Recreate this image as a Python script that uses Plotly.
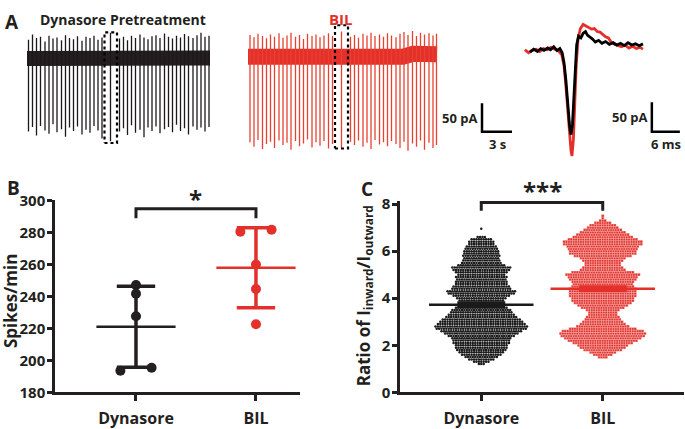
import numpy as np
import plotly.graph_objects as go

W, H = 685, 429
DARK = '#231f20'
RED = '#e3302a'
FONT = 'Open Sans'

# ---------------- data ----------------
# Panel A - spontaneous spike trains (time in s, current in pA)
black_spike_t = [0.15, 0.55, 0.95, 1.35, 1.8, 2.2, 2.6, 3.0, 3.45, 3.85, 4.25, 4.65, 5.05, 5.5,
                 5.9, 6.3, 6.7, 7.1, 7.5, 8.35, 9.25, 9.65, 10.05, 10.45, 10.85, 11.3, 11.7, 12.1,
                 12.5, 12.9, 13.3, 13.75, 14.15, 14.55, 14.95, 15.35, 15.75, 16.15, 16.6, 17.0,
                 17.4, 17.8, 18.2]
black_spike_up = [33, 42, 36, 38, 30, 40, 35, 37, 32, 41, 36, 34, 39, 31, 38, 36, 40, 33, 37, 45,
                  35, 38, 32, 40, 36, 42, 37, 34, 39, 41, 36, 44, 38, 35, 40, 37, 43, 39, 36, 41,
                  45, 38, 40]
black_spike_down = [128, 120, 135, 118, 126, 132, 115, 129, 124, 137, 121, 127, 119, 133, 125, 130,
                    118, 126, 140, 145, 128, 122, 134, 117, 130, 125, 138, 121, 127, 119, 131, 124,
                    120, 129, 116, 127, 122, 133, 119, 125, 121, 128, 120]
black_base_t = [0, 3, 6, 9, 12, 15, 18.3]
black_base_v = [0, 1, -1, 1, 0, 2, 1]
black_box_t = [7.75, 9.0]
black_box_pa = [-148, 46]

red_spike_t = [0.2, 0.6, 1.0, 1.45, 1.85, 2.25, 2.65, 3.1, 3.5, 3.9, 4.3, 4.75, 5.15, 5.55, 5.95,
               6.4, 6.8, 7.2, 7.6, 8.05, 8.45, 9.35, 10.25, 10.65, 11.05, 11.5, 11.9, 12.3, 12.7,
               13.15, 13.55, 13.95, 14.35, 14.8, 15.2, 15.6, 16.0, 16.45, 16.85, 17.25, 17.65,
               18.1, 18.5, 18.85]
red_spike_up = [38, 34, 40, 36, 32, 39, 35, 41, 33, 37, 42, 35, 38, 31, 40, 36, 39, 34, 37, 41, 36,
                44, 35, 38, 33, 40, 37, 42, 36, 39, 35, 41, 37, 34, 40, 43, 38, 45, 36, 42, 39, 41,
                37, 40]
red_spike_down = [150, 158, 146, 162, 153, 149, 160, 147, 155, 151, 163, 148, 157, 152, 145, 159,
                  150, 156, 148, 161, 153, 160, 149, 155, 147, 158, 151, 162, 146, 154, 150, 157,
                  148, 153, 160, 149, 165, 152, 158, 147, 163, 151, 160, 155]
red_base_t = [0, 4, 8, 12, 15.5, 16.5, 18.9]
red_base_v = [0, -1, -2, -1, 0, 5, 4]
red_box_t = [8.7, 10.0]
red_box_pa = [-161, 55]

# Panel A - averaged single spike (time in ms, current in pA)
wave_black_t = [3.2, 4.0, 4.8, 5.5, 6.2, 7.0, 7.6, 8.3, 9.0, 9.6, 10.1, 10.5, 10.9, 11.3, 11.7,
                12.0, 12.3, 12.6, 12.9, 13.2, 13.6, 14.1, 14.6, 15.1, 15.5, 16.0, 16.6, 17.2,
                17.9, 18.6, 19.4, 20.2, 21.0, 21.8, 22.6, 23.4, 24.2, 25.0, 25.8, 26.6, 27.4]
wave_black_pa = [-2, 3, -1, 4, 1, 5, 2, 7, 1, 4, -3, -20, -50, -95, -128, -142, -125, -80, -30,
                 10, 25, 22, 30, 33, 27, 24, 20, 15, 18, 13, 16, 11, 14, 10, 13, 9, 14, 10, 12, 9,
                 12]
wave_red_t = [2.1, 2.9, 3.7, 4.5, 5.3, 6.1, 6.9, 7.7, 8.5, 9.3, 10.0, 10.5, 10.9, 11.3, 11.7,
              12.0, 12.2, 12.5, 12.8, 13.1, 13.5, 14.0, 14.6, 15.2, 15.8, 16.4, 17.0, 17.6, 18.2,
              18.8, 19.4, 20.0, 20.6, 21.2, 22.0, 22.8, 23.6, 24.4, 25.2, 26.0, 26.8, 27.4]
wave_red_pa = [2, -3, 1, 3, -1, 4, 2, 6, 3, 0, -6, -25, -60, -105, -145, -170, -178, -150, -90,
               -25, 20, 38, 45, 42, 40, 37, 38, 33, 32, 28, 24, 22, 15, 12, 9, 7, 10, 5, 8, 4, 6,
               3]

# scale bars
train_bar_s, train_bar_pa = 3, 50
wave_bar_ms, wave_bar_pa = 6, 50

# Panel B - spikes/min
groups = ['Dynasore', 'BIL']
b_dynasore = [247.0, 241.6, 227.5, 195.4, 193.5]
b_bil = [281.6, 280.4, 259.8, 244.6, 222.6]

c_dyn_levels = [1.2, 1.3, 1.4, 1.5, 1.6, 1.7, 1.8, 1.9, 2.0, 2.1, 2.2, 2.3, 2.4, 2.5, 2.6, 2.7,
                2.8, 2.9, 3.0, 3.1, 3.2, 3.3, 3.4, 3.5, 3.6, 3.7, 3.8, 3.9, 4.0, 4.1, 4.2, 4.3,
                4.4, 4.5, 4.6, 4.7, 4.8, 4.9, 5.0, 5.1, 5.2, 5.3, 5.4, 5.5, 5.6, 5.7, 5.8, 5.9,
                6.0, 6.1, 6.2, 6.3, 6.4, 6.5, 6.6, 6.95]
c_dyn_counts = [3, 7, 11, 14, 17, 19, 21, 22, 22, 24, 24, 25, 28, 31, 34, 38, 39, 37, 35, 33, 30,
                28, 26, 25, 22, 19, 17, 19, 21, 24, 28, 29, 25, 24, 22, 22, 21, 22, 20, 22, 24, 25,
                20, 17, 16, 15, 16, 15, 15, 14, 13, 11, 11, 9, 4, 1]
c_bil_levels = [1.5, 1.6, 1.7, 1.8, 1.9, 2.0, 2.1, 2.2, 2.3, 2.4, 2.5, 2.6, 2.7, 2.8, 2.9, 3.0,
                3.1, 3.2, 3.3, 3.4, 3.5, 3.6, 3.7, 3.8, 3.9, 4.0, 4.1, 4.2, 4.3, 4.4, 4.5, 4.6,
                4.7, 4.8, 4.9, 5.0, 5.1, 5.2, 5.3, 5.4, 5.5, 5.6, 5.7, 5.8, 5.9, 6.0, 6.1, 6.2,
                6.3, 6.4, 6.5, 6.6, 6.7, 6.8, 6.9, 7.0, 7.1, 7.2, 7.3, 7.4, 7.5]
c_bil_counts = [4, 8, 11, 16, 19, 21, 25, 29, 32, 35, 36, 34, 28, 22, 19, 17, 15, 14, 12, 12, 14,
                18, 21, 24, 26, 26, 28, 28, 28, 28, 26, 25, 26, 28, 29, 31, 26, 19, 17, 15, 15,
                17, 19, 24, 28, 28, 29, 30, 33, 33, 29, 25, 22, 19, 16, 13, 11, 7, 3, 1, 1]

# ---------------- helpers ----------------
def xd(a, b):
    return [a / W, b / W]


def yd(top, bottom):
    return [1 - bottom / H, 1 - top / H]


def px(x):
    return x / W


def py(y):
    return 1 - y / H


fig = go.Figure()

# ---------------- panel A ----------------
def spikes_xy(ts, up, down):
    xs, ys = [], []
    for t, u, d in zip(ts, up, down):
        xs += [t, t, None]
        ys += [u, -d, None]
    return xs, ys


def box_xy(tr, pr):
    return ([tr[0], tr[1], tr[1], tr[0], tr[0]], [pr[0], pr[0], pr[1], pr[1], pr[0]])


# black train (x / y)
fig.add_trace(go.Scatter(x=black_base_t, y=black_base_v, mode='lines',
                         line=dict(color=DARK, width=15), xaxis='x', yaxis='y'))
sx, sy = spikes_xy(black_spike_t, black_spike_up, black_spike_down)
fig.add_trace(go.Scatter(x=sx, y=sy, mode='lines', line=dict(color='#1e1816', width=1.3),
                         xaxis='x', yaxis='y'))
bx, by = box_xy(black_box_t, black_box_pa)
fig.add_trace(go.Scatter(x=bx, y=by, mode='lines', line=dict(color='black', width=2.2, dash='dot'),
                         xaxis='x', yaxis='y'))

# red train (x2 / y2)
fig.add_trace(go.Scatter(x=red_base_t, y=red_base_v, mode='lines',
                         line=dict(color=RED, width=16), xaxis='x2', yaxis='y2'))
sx, sy = spikes_xy(red_spike_t, red_spike_up, red_spike_down)
fig.add_trace(go.Scatter(x=sx, y=sy, mode='lines', line=dict(color='#e8412f', width=1.3),
                         xaxis='x2', yaxis='y2'))
bx, by = box_xy(red_box_t, red_box_pa)
fig.add_trace(go.Scatter(x=bx, y=by, mode='lines', line=dict(color='black', width=2.2, dash='dot'),
                         xaxis='x2', yaxis='y2'))
# train scale bar
tb_x0, tb_y0 = 23.4, -131.7
fig.add_trace(go.Scatter(x=[tb_x0, tb_x0, tb_x0 + train_bar_s],
                         y=[tb_y0 + train_bar_pa, tb_y0, tb_y0], mode='lines',
                         line=dict(color='black', width=2.5), xaxis='x2', yaxis='y2'))

# averaged waveform (x3 / y3)
fig.add_trace(go.Scatter(x=wave_red_t, y=wave_red_pa, mode='lines',
                         line=dict(color=RED, width=2.8), xaxis='x3', yaxis='y3'))
fig.add_trace(go.Scatter(x=wave_black_t, y=wave_black_pa, mode='lines',
                         line=dict(color='black', width=2.8), xaxis='x3', yaxis='y3'))
wb_x0, wb_y0 = 29.3, -137.0
fig.add_trace(go.Scatter(x=[wb_x0, wb_x0, wb_x0 + wave_bar_ms],
                         y=[wb_y0 + wave_bar_pa, wb_y0, wb_y0], mode='lines',
                         line=dict(color='black', width=2.5), xaxis='x3', yaxis='y3'))

# ---------------- panel B ----------------
def pair_offsets(vals, thr=4.0, half=0.13):
    vals = np.asarray(vals, dtype=float)
    order = np.argsort(vals)
    offs = np.zeros(len(vals))
    clusters, cur = [], [order[0]]
    for a, b in zip(order[:-1], order[1:]):
        if vals[b] - vals[a] < thr:
            cur.append(b)
        else:
            clusters.append(cur)
            cur = [b]
    clusters.append(cur)
    for c in clusters:
        n = len(c)
        for k, idx in enumerate(c):
            offs[idx] = 0 if n == 1 else (k - (n - 1) / 2) * 2 * half / (n - 1)
    return offs


for i, (vals, col) in enumerate([(b_dynasore, DARK), (b_bil, RED)]):
    v = np.asarray(vals)
    m, sd = v.mean(), v.std(ddof=1)
    fig.add_trace(go.Scatter(x=[i, i, None, i - 0.16, i + 0.16, None, i - 0.16, i + 0.16],
                             y=[m - sd, m + sd, None, m + sd, m + sd, None, m - sd, m - sd],
                             mode='lines', line=dict(color=col, width=3.5),
                             xaxis='x4', yaxis='y4'))
    fig.add_trace(go.Scatter(x=[i - 0.33, i + 0.33], y=[m, m], mode='lines',
                             line=dict(color=col, width=2.5), xaxis='x4', yaxis='y4'))
    offs = pair_offsets(vals)
    fig.add_trace(go.Scatter(x=i + offs, y=v, mode='markers',
                             marker=dict(color=col, size=10), xaxis='x4', yaxis='y4'))
# significance bracket
fig.add_trace(go.Scatter(x=[0, 0, 1, 1], y=[288.7, 294.7, 294.7, 288.7], mode='lines',
                         line=dict(color=DARK, width=3), xaxis='x4', yaxis='y4'))

# ---------------- panel C ----------------
SP = 2.4 / 121.0  # horizontal spacing between swarm points (axis units)
for i, (lv, ct, col, sym, ol, sz) in enumerate([
        (c_dyn_levels, c_dyn_counts, '#1a1a1a', 'circle', 0, 2.5),
        (c_bil_levels, c_bil_counts, RED, 'square', 0.3, 2.7)]):
    xs, ys = [], []
    for y, n in zip(lv, ct):
        for k in range(n):
            xs.append(i + (k - (n - 1) / 2) * SP)
            ys.append(y)
    fig.add_trace(go.Scatter(x=xs, y=ys, mode='markers',
                             marker=dict(color=col, size=sz, symbol=sym,
                                         line=dict(color='white', width=ol)),
                             xaxis='x5', yaxis='y5'))
    arr = np.repeat(np.asarray(lv), np.asarray(ct))
    m = arr.mean()
    sem = arr.std(ddof=1) / np.sqrt(len(arr))
    fig.add_trace(go.Scatter(x=[i - 0.43, i + 0.43], y=[m, m], mode='lines',
                             line=dict(color=col, width=2.5), xaxis='x5', yaxis='y5'))
    fig.add_trace(go.Scatter(x=[i], y=[m], mode='markers', marker=dict(color=col, size=1),
                             error_y=dict(type='data', array=[sem], color=col, thickness=5,
                                          width=24),
                             xaxis='x5', yaxis='y5'))
fig.add_trace(go.Scatter(x=[0, 0, 1, 1], y=[7.72, 8.07, 8.07, 7.72], mode='lines',
                         line=dict(color=DARK, width=3), xaxis='x5', yaxis='y5'))

# ---------------- layout ----------------
hidden = dict(visible=False, showgrid=False, zeroline=False, fixedrange=True)
xtickfont = dict(family=FONT, size=16, color=DARK, weight='bold')
ytickfont = dict(family=FONT, size=15, color=DARK, weight='bold')
shown_x = dict(showline=True, linecolor=DARK, linewidth=2.5, ticks='outside', ticklen=6,
               tickwidth=2.5, tickcolor=DARK, showgrid=False, zeroline=False,
               tickvals=[0, 1], ticktext=groups, tickfont=xtickfont, ticklabelstandoff=4)
shown_y = dict(showline=True, linecolor=DARK, linewidth=2.5, ticks='outside', ticklen=5,
               tickwidth=2.5, tickcolor=DARK, showgrid=False, zeroline=False,
               tickfont=ytickfont, ticklabelstandoff=-1)

fig.update_layout(
    width=W, height=H, margin=dict(l=0, r=0, t=0, b=0),
    paper_bgcolor='white', plot_bgcolor='rgba(0,0,0,0)', showlegend=False,
    font=dict(family=FONT, color=DARK),
    xaxis=dict(domain=xd(27, 212), range=[0, 18.5], **hidden),
    yaxis=dict(domain=yd(12, 152), range=[-170, 63.3], **hidden),
    xaxis2=dict(domain=xd(248, 515), range=[0, 26.7], anchor='y2', **hidden),
    yaxis2=dict(domain=yd(10, 150), range=[-170, 63.3], anchor='x2', **hidden),
    xaxis3=dict(domain=xd(515, 685), range=[0, 36.4], anchor='y3', **hidden),
    yaxis3=dict(domain=yd(5, 155), range=[-182.3, 59.7], anchor='x3', **hidden),
    xaxis4=dict(domain=xd(55, 300), range=[-0.675, 1.367], anchor='y4', **shown_x),
    yaxis4=dict(domain=yd(199, 401), range=[180, 300], anchor='x4',
                tickvals=[180, 200, 220, 240, 260, 280, 300], **shown_y),
    xaxis5=dict(domain=xd(400, 684), range=[-0.669, 1.669], anchor='y5', **shown_x),
    yaxis5=dict(domain=yd(401 - 8.15 * 24.75, 401), range=[0, 8.15], anchor='x5',
                tickvals=[0, 2, 4, 6, 8], **shown_y),
)

bold = dict(family=FONT, color=DARK, weight='bold')
ann = [
    dict(text='A', x=px(12), y=py(12), font=dict(size=19, **bold)),
    dict(text='Dynasore Pretreatment', x=px(123), y=py(9), font=dict(size=14, **bold)),
    dict(text='BIL', x=px(341), y=py(8), font=dict(size=15, family=FONT, color=RED, weight='bold')),
    dict(text='B', x=px(13), y=py(186), font=dict(size=19, **bold)),
    dict(text='C', x=px(367), y=py(187), font=dict(size=19, **bold)),
    dict(text='Spikes/min', x=px(10), y=py(305), textangle=-90, font=dict(size=17, **bold)),
    dict(text='Ratio of I<sub>inward</sub>/I<sub>outward</sub>', x=px(364), y=py(300),
         textangle=-90, font=dict(size=17, **bold)),
]
for a in ann:
    fig.add_annotation(xref='paper', yref='paper', showarrow=False, xanchor='center',
                       yanchor='middle', **a)

# significance stars (domain-referenced so they may sit above the axis range)
fig.add_annotation(x=0.5, y=(401 - 197) / 202, xref='x4', yref='y4 domain', text='*',
                   showarrow=False, yanchor='middle', font=dict(size=24, **bold))
fig.add_annotation(x=0.5, y=(401 - 189) / (8.15 * 24.75), xref='x5', yref='y5 domain',
                   text='***', showarrow=False, yanchor='middle', font=dict(size=24, **bold))
# scale bar labels
fig.add_annotation(x=tb_x0, y=tb_y0 + train_bar_pa / 2, xref='x2', yref='y2', text='50 pA',
                   showarrow=False, xanchor='right', xshift=-3, font=dict(size=13, **bold))
fig.add_annotation(x=tb_x0 + train_bar_s / 2, y=tb_y0, xref='x2', yref='y2', text='3 s',
                   showarrow=False, yanchor='top', yshift=-1, font=dict(size=13, **bold))
fig.add_annotation(x=wb_x0, y=wb_y0 + wave_bar_pa / 2, xref='x3', yref='y3', text='50 pA',
                   showarrow=False, xanchor='right', xshift=-3, font=dict(size=13, **bold))
fig.add_annotation(x=wb_x0 + wave_bar_ms / 2, y=wb_y0, xref='x3', yref='y3', text='6 ms',
                   showarrow=False, yanchor='top', yshift=-1, font=dict(size=13, **bold))

fig.write_html('out.html')
